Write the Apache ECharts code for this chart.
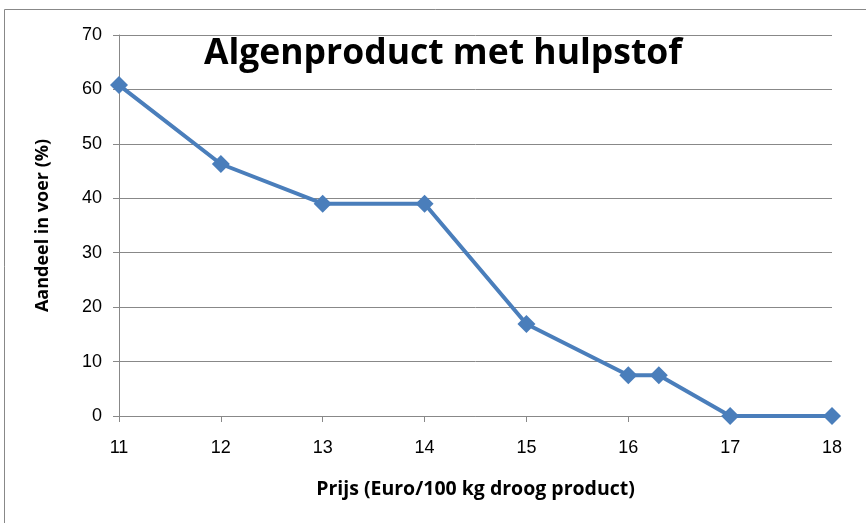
<!DOCTYPE html>
<html><head><meta charset="utf-8">
<script src="https://cdn.jsdelivr.net/npm/echarts@6/dist/echarts.min.js"></script>
<style>html,body{margin:0;padding:0;background:#fff}#c{width:866px;height:523px}</style>
</head><body><div id="c"></div>
<script>
const prices = [11, 12, 13, 14, 15, 16, 16.3, 17, 18];
const shares = [60.8, 46.3, 39.0, 39.0, 16.9, 7.5, 7.5, 0, 0];
const titleText = 'Algenproduct met hulpstof';
const xName = 'Prijs (Euro/100 kg droog product)';
const yName = 'Aandeel in voer (%)';

const chart = echarts.init(document.getElementById('c'));
const font = '"Liberation Sans Narrow", "Liberation Sans", sans-serif';
chart.setOption({
  animation: false,
  title: {text: titleText, left: 438, top: 31, textAlign: 'center',
    textStyle: {fontFamily: '"Open Sans", sans-serif', fontWeight: 'bold', fontSize: 35.5, color: '#000'}},
  graphic: [{type: 'rect', shape: {x: 4.5, y: 9.5, width: 900, height: 600},
    style: {fill: 'none', stroke: '#888', lineWidth: 1}, silent: true}],
  grid: {left: 119, right: 34, top: 35, bottom: 107},
  xAxis: {type: 'value', min: 11, max: 18, interval: 1,
    name: xName, nameLocation: 'middle', nameGap: 63,
    nameTextStyle: {fontFamily: '"Open Sans", sans-serif', fontWeight: 'bold', fontSize: 19.5, color: '#000'},
    axisLine: {show: true, onZero: false, lineStyle: {color: '#888', width: 1}},
    axisTick: {show: true, inside: false, length: 6, lineStyle: {color: '#888'}},
    axisLabel: {fontFamily: font, fontSize: 18, color: '#000', margin: 23},
    splitLine: {show: false}},
  yAxis: {type: 'value', min: 0, max: 70, interval: 10,
    name: yName, nameLocation: 'middle', nameGap: 67, nameRotate: 90,
    nameTextStyle: {fontFamily: '"Open Sans", sans-serif', fontWeight: 'bold', fontSize: 18, color: '#000'},
    axisLine: {show: true, lineStyle: {color: '#888', width: 1}},
    axisTick: {show: true, length: 6, lineStyle: {color: '#888'}},
    axisLabel: {fontFamily: font, fontSize: 18, color: '#000', margin: 17},
    splitLine: {show: true, lineStyle: {color: '#888', width: 1}}},
  series: [{type: 'line', data: prices.map((p, i) => [p, shares[i]]),
    symbol: 'diamond', symbolSize: 18, showSymbol: true,
    lineStyle: {color: '#4a7ebb', width: 4},
    itemStyle: {color: '#4a7ebb'}}]
});
</script></body></html>
